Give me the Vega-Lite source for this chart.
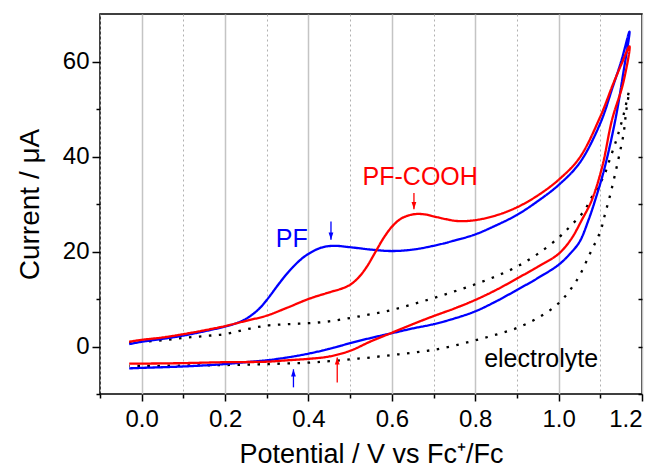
{
  "$schema": "https://vega.github.io/schema/vega-lite/v6.json",
  "width": 542,
  "height": 380,
  "autosize": "none",
  "padding": {"left": 100, "top": 14, "right": 20, "bottom": 78},
  "background": "white",
  "config": {
    "font": "Liberation Sans",
    "view": {"stroke": "black", "strokeWidth": 1.5},
    "axis": {
      "labelFont": "Liberation Sans",
      "titleFont": "Liberation Sans",
      "labelColor": "black",
      "titleColor": "black",
      "tickColor": "black",
      "tickWidth": 1.5,
      "domain": false,
      "labelFontSize": 24,
      "titleFontSize": 28,
      "titleFontWeight": "normal",
      "zindex": 0
    }
  },
  "datasets": {
    "curves": [
      {"series": "electrolyte", "i": 1, "x": -0.03, "y": 0.8},
      {"series": "electrolyte", "i": 2, "x": 0.0, "y": 1.0},
      {"series": "electrolyte", "i": 3, "x": 0.05, "y": 1.3},
      {"series": "electrolyte", "i": 4, "x": 0.1, "y": 1.8},
      {"series": "electrolyte", "i": 5, "x": 0.15, "y": 2.2},
      {"series": "electrolyte", "i": 6, "x": 0.2, "y": 2.6},
      {"series": "electrolyte", "i": 7, "x": 0.25, "y": 3.6},
      {"series": "electrolyte", "i": 8, "x": 0.3, "y": 4.4},
      {"series": "electrolyte", "i": 9, "x": 0.35, "y": 4.7},
      {"series": "electrolyte", "i": 10, "x": 0.4, "y": 4.9},
      {"series": "electrolyte", "i": 11, "x": 0.45, "y": 5.3},
      {"series": "electrolyte", "i": 12, "x": 0.5, "y": 6.0},
      {"series": "electrolyte", "i": 13, "x": 0.55, "y": 6.8},
      {"series": "electrolyte", "i": 14, "x": 0.6, "y": 7.7},
      {"series": "electrolyte", "i": 15, "x": 0.65, "y": 8.9},
      {"series": "electrolyte", "i": 16, "x": 0.7, "y": 10.2},
      {"series": "electrolyte", "i": 17, "x": 0.75, "y": 11.6},
      {"series": "electrolyte", "i": 18, "x": 0.8, "y": 13.1},
      {"series": "electrolyte", "i": 19, "x": 0.85, "y": 14.8},
      {"series": "electrolyte", "i": 20, "x": 0.9, "y": 16.8},
      {"series": "electrolyte", "i": 21, "x": 0.95, "y": 19.5},
      {"series": "electrolyte", "i": 22, "x": 1.0, "y": 22.9},
      {"series": "electrolyte", "i": 23, "x": 1.03, "y": 25.5},
      {"series": "electrolyte", "i": 24, "x": 1.06, "y": 28.4},
      {"series": "electrolyte", "i": 25, "x": 1.08, "y": 31.5},
      {"series": "electrolyte", "i": 26, "x": 1.108, "y": 35.8},
      {"series": "electrolyte", "i": 27, "x": 1.125, "y": 40.0},
      {"series": "electrolyte", "i": 28, "x": 1.14, "y": 43.9},
      {"series": "electrolyte", "i": 29, "x": 1.155, "y": 48.5},
      {"series": "electrolyte", "i": 30, "x": 1.169, "y": 53.7},
      {"series": "electrolyte", "i": 31, "x": 1.162, "y": 49.5},
      {"series": "electrolyte", "i": 32, "x": 1.156, "y": 44.9},
      {"series": "electrolyte", "i": 33, "x": 1.146, "y": 40.5},
      {"series": "electrolyte", "i": 34, "x": 1.136, "y": 36.5},
      {"series": "electrolyte", "i": 35, "x": 1.124, "y": 32.0},
      {"series": "electrolyte", "i": 36, "x": 1.112, "y": 28.1},
      {"series": "electrolyte", "i": 37, "x": 1.1, "y": 24.2},
      {"series": "electrolyte", "i": 38, "x": 1.076, "y": 19.7},
      {"series": "electrolyte", "i": 39, "x": 1.044, "y": 14.0},
      {"series": "electrolyte", "i": 40, "x": 1.0, "y": 9.1},
      {"series": "electrolyte", "i": 41, "x": 0.95, "y": 6.0},
      {"series": "electrolyte", "i": 42, "x": 0.9, "y": 3.9},
      {"series": "electrolyte", "i": 43, "x": 0.85, "y": 2.5},
      {"series": "electrolyte", "i": 44, "x": 0.8, "y": 1.3},
      {"series": "electrolyte", "i": 45, "x": 0.75, "y": 0.2},
      {"series": "electrolyte", "i": 46, "x": 0.7, "y": -0.7},
      {"series": "electrolyte", "i": 47, "x": 0.65, "y": -1.3},
      {"series": "electrolyte", "i": 48, "x": 0.6, "y": -1.8},
      {"series": "electrolyte", "i": 49, "x": 0.55, "y": -2.3},
      {"series": "electrolyte", "i": 50, "x": 0.5, "y": -2.7},
      {"series": "electrolyte", "i": 51, "x": 0.45, "y": -3.1},
      {"series": "electrolyte", "i": 52, "x": 0.4, "y": -3.4},
      {"series": "electrolyte", "i": 53, "x": 0.3, "y": -3.7},
      {"series": "electrolyte", "i": 54, "x": 0.2, "y": -3.9},
      {"series": "electrolyte", "i": 55, "x": 0.1, "y": -4.0},
      {"series": "electrolyte", "i": 56, "x": 0.0, "y": -4.1},
      {"series": "electrolyte", "i": 57, "x": -0.03, "y": -4.1},

      {"series": "PF", "i": 1, "x": -0.03, "y": 0.5},
      {"series": "PF", "i": 2, "x": 0.0, "y": 1.0},
      {"series": "PF", "i": 3, "x": 0.05, "y": 1.6},
      {"series": "PF", "i": 4, "x": 0.1, "y": 2.3},
      {"series": "PF", "i": 5, "x": 0.15, "y": 3.2},
      {"series": "PF", "i": 6, "x": 0.2, "y": 4.2},
      {"series": "PF", "i": 7, "x": 0.23, "y": 5.0},
      {"series": "PF", "i": 8, "x": 0.25, "y": 5.8},
      {"series": "PF", "i": 9, "x": 0.28, "y": 7.8},
      {"series": "PF", "i": 10, "x": 0.3, "y": 9.8},
      {"series": "PF", "i": 11, "x": 0.33, "y": 13.3},
      {"series": "PF", "i": 12, "x": 0.35, "y": 15.5},
      {"series": "PF", "i": 13, "x": 0.38, "y": 18.2},
      {"series": "PF", "i": 14, "x": 0.4, "y": 19.5},
      {"series": "PF", "i": 15, "x": 0.43, "y": 20.8},
      {"series": "PF", "i": 16, "x": 0.46, "y": 21.2},
      {"series": "PF", "i": 17, "x": 0.5, "y": 20.9},
      {"series": "PF", "i": 18, "x": 0.55, "y": 20.4},
      {"series": "PF", "i": 19, "x": 0.6, "y": 20.1},
      {"series": "PF", "i": 20, "x": 0.65, "y": 20.4},
      {"series": "PF", "i": 21, "x": 0.7, "y": 21.2},
      {"series": "PF", "i": 22, "x": 0.75, "y": 22.3},
      {"series": "PF", "i": 23, "x": 0.8, "y": 23.6},
      {"series": "PF", "i": 24, "x": 0.85, "y": 25.5},
      {"series": "PF", "i": 25, "x": 0.9, "y": 27.7},
      {"series": "PF", "i": 26, "x": 0.95, "y": 30.6},
      {"series": "PF", "i": 27, "x": 1.0, "y": 34.0},
      {"series": "PF", "i": 28, "x": 1.05, "y": 38.6},
      {"series": "PF", "i": 29, "x": 1.1, "y": 47.0},
      {"series": "PF", "i": 30, "x": 1.13, "y": 54.7},
      {"series": "PF", "i": 31, "x": 1.15, "y": 60.0},
      {"series": "PF", "i": 32, "x": 1.17, "y": 66.3},
      {"series": "PF", "i": 33, "x": 1.155, "y": 57.5},
      {"series": "PF", "i": 34, "x": 1.136, "y": 47.7},
      {"series": "PF", "i": 35, "x": 1.11, "y": 37.5},
      {"series": "PF", "i": 36, "x": 1.088, "y": 30.9},
      {"series": "PF", "i": 37, "x": 1.072, "y": 26.7},
      {"series": "PF", "i": 38, "x": 1.05, "y": 22.0},
      {"series": "PF", "i": 39, "x": 1.025, "y": 19.3},
      {"series": "PF", "i": 40, "x": 1.0, "y": 17.2},
      {"series": "PF", "i": 41, "x": 0.95, "y": 14.4},
      {"series": "PF", "i": 42, "x": 0.9, "y": 11.9},
      {"series": "PF", "i": 43, "x": 0.85, "y": 9.5},
      {"series": "PF", "i": 44, "x": 0.8, "y": 7.4},
      {"series": "PF", "i": 45, "x": 0.75, "y": 5.9},
      {"series": "PF", "i": 46, "x": 0.7, "y": 4.7},
      {"series": "PF", "i": 47, "x": 0.65, "y": 3.8},
      {"series": "PF", "i": 48, "x": 0.6, "y": 2.8},
      {"series": "PF", "i": 49, "x": 0.55, "y": 1.8},
      {"series": "PF", "i": 50, "x": 0.5, "y": 0.7},
      {"series": "PF", "i": 51, "x": 0.45, "y": -0.5},
      {"series": "PF", "i": 52, "x": 0.4, "y": -1.5},
      {"series": "PF", "i": 53, "x": 0.35, "y": -2.3},
      {"series": "PF", "i": 54, "x": 0.3, "y": -2.9},
      {"series": "PF", "i": 55, "x": 0.25, "y": -3.3},
      {"series": "PF", "i": 56, "x": 0.2, "y": -3.7},
      {"series": "PF", "i": 57, "x": 0.1, "y": -4.2},
      {"series": "PF", "i": 58, "x": 0.0, "y": -4.5},
      {"series": "PF", "i": 59, "x": -0.03, "y": -4.6},

      {"series": "PF-COOH", "i": 1, "x": -0.03, "y": 1.0},
      {"series": "PF-COOH", "i": 2, "x": 0.0, "y": 1.4},
      {"series": "PF-COOH", "i": 3, "x": 0.05, "y": 1.9},
      {"series": "PF-COOH", "i": 4, "x": 0.1, "y": 2.6},
      {"series": "PF-COOH", "i": 5, "x": 0.15, "y": 3.4},
      {"series": "PF-COOH", "i": 6, "x": 0.2, "y": 4.3},
      {"series": "PF-COOH", "i": 7, "x": 0.25, "y": 5.4},
      {"series": "PF-COOH", "i": 8, "x": 0.3, "y": 6.5},
      {"series": "PF-COOH", "i": 9, "x": 0.35, "y": 8.2},
      {"series": "PF-COOH", "i": 10, "x": 0.4, "y": 10.0},
      {"series": "PF-COOH", "i": 11, "x": 0.45, "y": 11.4},
      {"series": "PF-COOH", "i": 12, "x": 0.48, "y": 12.2},
      {"series": "PF-COOH", "i": 13, "x": 0.5, "y": 13.0},
      {"series": "PF-COOH", "i": 14, "x": 0.52, "y": 14.5},
      {"series": "PF-COOH", "i": 15, "x": 0.54, "y": 16.8},
      {"series": "PF-COOH", "i": 16, "x": 0.56, "y": 19.8},
      {"series": "PF-COOH", "i": 17, "x": 0.58, "y": 22.8},
      {"series": "PF-COOH", "i": 18, "x": 0.6, "y": 25.2},
      {"series": "PF-COOH", "i": 19, "x": 0.62, "y": 26.8},
      {"series": "PF-COOH", "i": 20, "x": 0.64, "y": 27.6},
      {"series": "PF-COOH", "i": 21, "x": 0.66, "y": 27.9},
      {"series": "PF-COOH", "i": 22, "x": 0.68, "y": 27.8},
      {"series": "PF-COOH", "i": 23, "x": 0.7, "y": 27.4},
      {"series": "PF-COOH", "i": 24, "x": 0.73, "y": 26.8},
      {"series": "PF-COOH", "i": 25, "x": 0.76, "y": 26.4},
      {"series": "PF-COOH", "i": 26, "x": 0.8, "y": 26.6},
      {"series": "PF-COOH", "i": 27, "x": 0.85, "y": 27.6},
      {"series": "PF-COOH", "i": 28, "x": 0.9, "y": 29.3},
      {"series": "PF-COOH", "i": 29, "x": 0.95, "y": 31.8},
      {"series": "PF-COOH", "i": 30, "x": 1.0, "y": 35.1},
      {"series": "PF-COOH", "i": 31, "x": 1.05, "y": 39.7},
      {"series": "PF-COOH", "i": 32, "x": 1.1, "y": 48.4},
      {"series": "PF-COOH", "i": 33, "x": 1.13, "y": 55.1},
      {"series": "PF-COOH", "i": 34, "x": 1.15, "y": 59.3},
      {"series": "PF-COOH", "i": 35, "x": 1.17, "y": 63.2},
      {"series": "PF-COOH", "i": 36, "x": 1.155, "y": 55.5},
      {"series": "PF-COOH", "i": 37, "x": 1.128, "y": 47.7},
      {"series": "PF-COOH", "i": 38, "x": 1.105, "y": 38.0},
      {"series": "PF-COOH", "i": 39, "x": 1.08, "y": 30.9},
      {"series": "PF-COOH", "i": 40, "x": 1.056, "y": 26.7},
      {"series": "PF-COOH", "i": 41, "x": 1.03, "y": 22.6},
      {"series": "PF-COOH", "i": 42, "x": 1.0, "y": 19.5},
      {"series": "PF-COOH", "i": 43, "x": 0.95, "y": 16.8},
      {"series": "PF-COOH", "i": 44, "x": 0.9, "y": 14.3},
      {"series": "PF-COOH", "i": 45, "x": 0.85, "y": 11.9},
      {"series": "PF-COOH", "i": 46, "x": 0.8, "y": 9.8},
      {"series": "PF-COOH", "i": 47, "x": 0.75, "y": 8.0},
      {"series": "PF-COOH", "i": 48, "x": 0.7, "y": 6.4},
      {"series": "PF-COOH", "i": 49, "x": 0.65, "y": 4.7},
      {"series": "PF-COOH", "i": 50, "x": 0.6, "y": 2.9},
      {"series": "PF-COOH", "i": 51, "x": 0.55, "y": 1.1},
      {"series": "PF-COOH", "i": 52, "x": 0.5, "y": -0.9},
      {"series": "PF-COOH", "i": 53, "x": 0.45, "y": -2.1},
      {"series": "PF-COOH", "i": 54, "x": 0.4, "y": -2.6},
      {"series": "PF-COOH", "i": 55, "x": 0.35, "y": -2.9},
      {"series": "PF-COOH", "i": 56, "x": 0.3, "y": -3.2},
      {"series": "PF-COOH", "i": 57, "x": 0.2, "y": -3.3},
      {"series": "PF-COOH", "i": 58, "x": 0.1, "y": -3.5},
      {"series": "PF-COOH", "i": 59, "x": 0.0, "y": -3.6},
      {"series": "PF-COOH", "i": 60, "x": -0.03, "y": -3.6}
    ],
    "labels": [
      {"label": "PF", "x": 0.36, "y": 21.0},
      {"label": "PF-COOH", "x": 0.668, "y": 34.0},
      {"label": "electrolyte", "x": 0.958, "y": -4.3}
    ],
    "arrows": [
      {"series": "PF", "dir": "down", "x": 0.454, "tail": 26.3, "tip": 22.5},
      {"series": "PF-COOH", "dir": "down", "x": 0.653, "tail": 32.3, "tip": 28.9},
      {"series": "PF", "dir": "up", "x": 0.364, "tail": -8.6, "tip": -4.8},
      {"series": "PF-COOH", "dir": "up", "x": 0.469, "tail": -7.6, "tip": -2.3}
    ]
  },
  "resolve": {"axis": {"x": "independent", "y": "independent"}},
  "layer": [
    {
      "data": {"name": "labels"},
      "mark": {"type": "text", "opacity": 0},
      "encoding": {
        "x": {"field": "x", "type": "quantitative",
              "scale": {"domain": [-0.1, 1.2], "nice": false, "zero": false},
              "axis": {"orient": "bottom", "values": [-0.1, 0.1, 0.3, 0.5, 0.7, 0.9, 1.1], "labels": false, "title": null, "tickSize": 4, "grid": true, "gridColor": "#b0b0b0", "gridDash": [2, 3], "gridWidth": 1}},
        "y": {"field": "y", "type": "quantitative",
              "scale": {"domain": [-10, 70], "nice": false, "zero": false},
              "axis": {"orient": "left", "values": [-10, 10, 30, 50], "labels": false, "title": null, "tickSize": 4, "grid": false}},
        "text": {"field": "label"}
      }
    },
    {
      "data": {"name": "curves"},
      "mark": {"type": "line", "interpolate": "catmull-rom"},
      "encoding": {
        "x": {"field": "x", "type": "quantitative",
              "scale": {"domain": [-0.1, 1.2], "nice": false, "zero": false},
              "axis": {"orient": "bottom", "values": [0, 0.2, 0.4, 0.6, 0.8, 1.0, 1.2], "format": ".1f", "title": "Potential / V vs Fc⁺/Fc", "titleFontSize": 27, "tickSize": 7, "labelPadding": 6, "titlePadding": 10, "grid": true, "gridColor": "#c4c4c4", "gridDash": [], "gridWidth": 1.5}},
        "y": {"field": "y", "type": "quantitative",
              "scale": {"domain": [-10, 70], "nice": false, "zero": false},
              "axis": {"orient": "left", "values": [0, 20, 40, 60], "format": "d", "title": "Current / μA", "tickSize": 8, "labelPadding": 3, "titlePadding": 18, "grid": false}},
        "color": {"field": "series", "type": "nominal",
                  "scale": {"domain": ["PF", "PF-COOH", "electrolyte"], "range": ["#0000ff", "#ff0000", "#000000"]},
                  "legend": null},
        "strokeDash": {"field": "series", "type": "nominal",
                       "scale": {"domain": ["PF", "PF-COOH", "electrolyte"], "range": [[1, 0], [1, 0], [2.5, 7.5]]},
                       "legend": null},
        "strokeWidth": {"field": "series", "type": "nominal",
                        "scale": {"domain": ["PF", "PF-COOH", "electrolyte"], "range": [2.3, 2.3, 2.5]},
                        "legend": null},
        "order": {"field": "i", "type": "quantitative"}
      }
    },
    {
      "data": {"name": "labels"},
      "mark": {"type": "text", "fontSize": 25, "align": "center", "baseline": "alphabetic", "font": "Liberation Sans"},
      "encoding": {
        "x": {"field": "x", "type": "quantitative", "axis": null},
        "y": {"field": "y", "type": "quantitative",
              "axis": {"orient": "right", "values": [-10, 0, 10, 20, 30, 40, 50, 60], "labels": false, "title": null, "tickSize": -4, "grid": false}},
        "text": {"field": "label"},
        "color": {"field": "label", "type": "nominal", "legend": null}
      }
    },
    {
      "data": {"name": "arrows"},
      "mark": {"type": "rule", "strokeWidth": 1.3},
      "encoding": {
        "x": {"field": "x", "type": "quantitative", "axis": null},
        "y": {"field": "tail", "type": "quantitative", "axis": null},
        "y2": {"field": "tip"},
        "color": {"field": "series", "type": "nominal", "legend": null}
      }
    },
    {
      "data": {"name": "arrows"},
      "transform": [{"filter": "datum.dir === 'down'"}],
      "mark": {"type": "point", "filled": true, "opacity": 1, "size": 64, "shape": "M-0.6,-1.8L0.6,-1.8L0,0Z", "strokeWidth": 0},
      "encoding": {
        "x": {"field": "x", "type": "quantitative", "axis": null},
        "y": {"field": "tip", "type": "quantitative", "axis": null},
        "color": {"field": "series", "type": "nominal", "legend": null}
      }
    },
    {
      "data": {"name": "arrows"},
      "transform": [{"filter": "datum.dir === 'up'"}],
      "mark": {"type": "point", "filled": true, "opacity": 1, "size": 64, "shape": "M-0.6,1.8L0.6,1.8L0,0Z", "strokeWidth": 0},
      "encoding": {
        "x": {"field": "x", "type": "quantitative", "axis": null},
        "y": {"field": "tip", "type": "quantitative", "axis": null},
        "color": {"field": "series", "type": "nominal", "legend": null}
      }
    }
  ]
}
